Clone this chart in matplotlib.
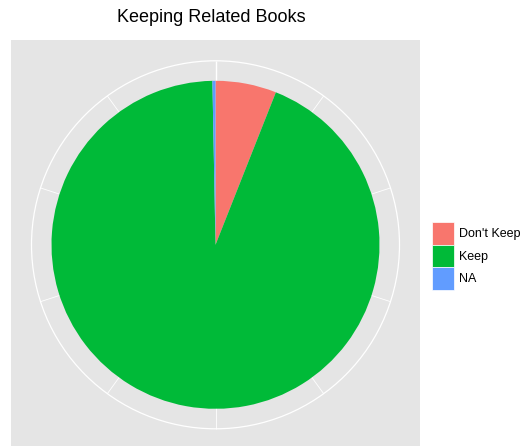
import numpy as np
import matplotlib
matplotlib.use("Agg")
import matplotlib.pyplot as plt
from matplotlib.patches import Patch, Circle

# Share of respondents by answer
categories = ["Don't Keep", "Keep", "NA"]
shares = [0.060, 0.937, 0.003]
colors = ["#F8766D", "#00BA38", "#619CFF"]
title = "Keeping Related Books"

W, H = 524, 446
fig = plt.figure(figsize=(W / 100, H / 100), dpi=100)
plt.rcParams["font.family"] = ["Liberation Sans", "DejaVu Sans"]

# Panel rectangle in pixels (left, top, right, bottom)
pl, pt, pr, pb = 11, 40, 420, 446
pw, ph = pr - pl, pb - pt
ax = fig.add_axes([pl / W, 1 - pb / H, pw / W, ph / H])
ax.set_facecolor("#E5E5E5")

cx, cy = 204.5, ph - 204.8
r_pie, r_outer = 164, 184

# Angular grid lines (clockwise from top) and outer circle
for k in range(10):
    a = np.deg2rad(90 - 36 * k)
    ax.plot([cx, cx + r_outer * np.cos(a)], [cy, cy + r_outer * np.sin(a)],
            color="white", lw=1.0 if k == 0 else 0.6, zorder=1, solid_capstyle="butt")
ax.add_patch(Circle((cx, cy), r_outer, fill=False, ec="white", lw=0.9, zorder=1))

ax.pie(shares, colors=colors, startangle=90, counterclock=False,
       center=(cx, cy), radius=r_pie, frame=True,
       wedgeprops=dict(linewidth=0, zorder=2))

ax.set_xlim(0, pw)
ax.set_ylim(0, ph)
ax.set_aspect("auto")
ax.set_xticks([])
ax.set_yticks([])
for s in ax.spines.values():
    s.set_visible(False)

fig.text((pl + pw / 2 - 4) / W, 1 - 21.5 / H, title, ha="center", va="baseline",
         fontsize=13, color="black")

handles = [Patch(facecolor=c, edgecolor="white", linewidth=0.5) for c in colors]
fig.legend(handles, categories, loc="upper left",
           bbox_to_anchor=(432 / W, 1 - 222 / H), frameon=False,
           fontsize=9, handlelength=1.76, handleheight=2.4, labelspacing=0,
           handletextpad=0.4, borderpad=0, borderaxespad=0)

fig.savefig("out.png", dpi=100)
